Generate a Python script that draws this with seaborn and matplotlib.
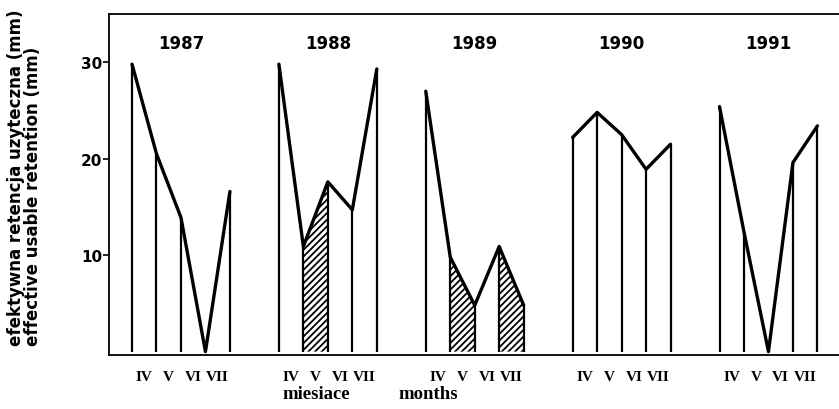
import numpy as np
import pandas as pd
import matplotlib
matplotlib.use("Agg")
import matplotlib.pyplot as plt
import seaborn as sns

# Effective usable retention (mm) at the boundaries of months IV..VII
years = ["1987", "1988", "1989", "1990", "1991"]
months = ["IV", "V", "VI", "VII"]
retention_1987 = [29.8, 20.5, 13.9, 0.0, 16.6]
retention_1988 = [29.8, 10.9, 17.6, 14.7, 29.3]
retention_1989 = [27.0, 9.8, 4.8, 10.9, 4.8]
retention_1990 = [22.2, 24.8, 22.5, 18.9, 21.5]
retention_1991 = [25.4, 12.4, 0.0, 19.6, 23.4]
series = [retention_1987, retention_1988, retention_1989, retention_1990, retention_1991]
# hatched months: (year, month index)
hatched = [("1988", 1), ("1989", 1), ("1989", 3)]

group_step = 6  # four month columns plus a gap between years

rows = []
for g, (yr, vals) in enumerate(zip(years, series)):
    for i, v in enumerate(vals):
        rows.append({"year": yr, "pos": g * group_step + i, "value": v})
df = pd.DataFrame(rows)

sns.set_theme(style="white")
plt.rcParams["font.family"] = ["DejaVu Sans"]
plt.rcParams["text.color"] = "black"
plt.rcParams["xtick.color"] = "black"
plt.rcParams["ytick.color"] = "black"
plt.rcParams["xtick.labelcolor"] = "black"
plt.rcParams["ytick.labelcolor"] = "black"
plt.rcParams["hatch.linewidth"] = 1.3

fig = plt.figure(figsize=(8.39, 4.10), dpi=100)
ax = fig.add_axes([109 / 839, 1 - 356 / 410, 1 - 109 / 839 + 0.002, (356 - 15) / 410])

# vertical bars from zero to each value
ax.vlines(df["pos"], 0, df["value"], color="black", linewidth=1.6, zorder=3)

# hatched months
for yr, mi in hatched:
    sub = df[df["year"] == yr].reset_index(drop=True)
    xs = sub["pos"].iloc[mi:mi + 2].to_numpy()
    ys = sub["value"].iloc[mi:mi + 2].to_numpy()
    ax.fill_between(xs, 0, ys, facecolor="white", edgecolor="black",
                    hatch="/////", linewidth=0, zorder=2)

# connecting polyline for each year
sns.lineplot(data=df, x="pos", y="value", units="year", estimator=None,
             color="black", linewidth=2.4, ax=ax, legend=False, zorder=4)

ax.set_xlim(-0.94, 28.95)
ax.set_ylim(-0.35, 35)

for s in ["left", "top", "bottom"]:
    ax.spines[s].set_visible(True)
    ax.spines[s].set_color("black")
    ax.spines[s].set_linewidth(1.3)
ax.spines["right"].set_visible(False)

ax.set_yticks([10, 20, 30])
ax.set_yticklabels(["10", "20", "30"], fontsize=11, fontweight="bold", color="black")
ax.tick_params(axis="y", direction="out", length=4, width=1.2, color="black", pad=1, left=True)

tick_pos = [g * group_step + i + 0.5 for g in range(len(years)) for i in range(len(months))]
tick_lab = months * len(years)
ax.set_xticks(tick_pos)
ax.set_xticklabels(tick_lab, fontsize=11, fontweight="bold", family="Liberation Serif", color="black")
ax.tick_params(axis="x", length=0, pad=11)
ax.set_xlabel("")
ax.set_ylabel("")
ax.grid(False)

# year labels above each group
for g, yr in enumerate(years):
    ax.text(g * group_step + 2, 32, yr, ha="center", va="center",
            fontsize=12, fontweight="bold", color="black")

fig.text(316 / 839, 1 - 395 / 410, "miesiace", ha="center", va="center",
         fontsize=13.5, fontweight="bold", family="Liberation Serif", color="black")
fig.text(428 / 839, 1 - 395 / 410, "months", ha="center", va="center",
         fontsize=13.5, fontweight="bold", family="Liberation Serif", color="black")

fig.text(16 / 839, 1 - 346 / 410, "efektywna retencja uzyteczna (mm)", rotation=90,
         rotation_mode="anchor", ha="left", va="center", fontsize=12, fontweight="bold",
         color="black")
fig.text(33 / 839, 1 - 346 / 410, "effective usable retention (mm)", rotation=90,
         rotation_mode="anchor", ha="left", va="center", fontsize=12, fontweight="bold",
         color="black")

fig.savefig("out.png", dpi=100, facecolor="white")
